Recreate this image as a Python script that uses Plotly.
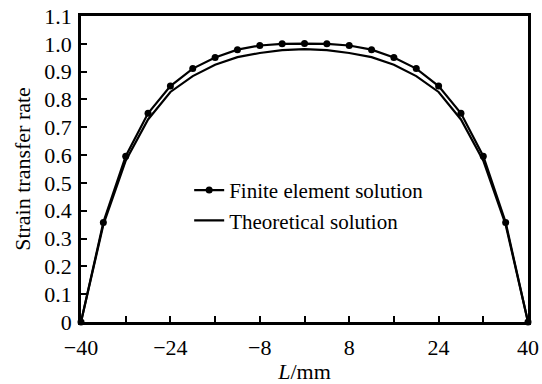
import plotly.graph_objects as go

# Position along the fiber, mm
L_mm = [-40, -36, -32, -28, -24, -20, -16, -12, -8, -4, 0,
        4, 8, 12, 16, 20, 24, 28, 32, 36, 40]

# Strain transfer rate, finite element solution
fe_rate = [0.0, 0.358, 0.596, 0.750, 0.848, 0.911, 0.951, 0.979, 0.994, 1.000, 1.001,
           1.000, 0.994, 0.979, 0.951, 0.911, 0.848, 0.750, 0.596, 0.358, 0.0]

# Strain transfer rate, theoretical solution
theory_rate = [0.0, 0.350, 0.580, 0.728, 0.827, 0.884, 0.925, 0.952, 0.967, 0.977, 0.981,
               0.977, 0.967, 0.952, 0.925, 0.884, 0.827, 0.728, 0.580, 0.350, 0.0]

x_tickvals = [-40, -32, -24, -16, -8, 0, 8, 16, 24, 32, 40]
x_ticktext = ["\u221240", "", "\u221224", "", "\u22128", "", "8", "", "24", "", "40"]

y_tickvals = [0, 0.1, 0.2, 0.3, 0.4, 0.5, 0.6, 0.7, 0.8, 0.9, 1.0, 1.1]
y_ticktext = ["0", "0.1", "0.2", "0.3", "0.4", "0.5", "0.6", "0.7", "0.8", "0.9", "1.0", "1.1"]

FONT = "Liberation Serif, Times New Roman, serif"

fig = go.Figure()
fig.add_trace(go.Scatter(
    x=L_mm, y=fe_rate, mode="lines+markers", name="Finite element solution",
    line=dict(color="black", width=2.2),
    marker=dict(color="black", size=7, symbol="circle"),
    cliponaxis=False,
))
fig.add_trace(go.Scatter(
    x=L_mm, y=theory_rate, mode="lines", name="Theoretical solution",
    line=dict(color="black", width=2.2),
    cliponaxis=False,
))

fig.update_layout(
    width=542, height=384,
    margin=dict(l=81, r=14, t=16, b=62),
    paper_bgcolor="white", plot_bgcolor="white",
    font=dict(family=FONT, size=22, color="black"),
    showlegend=True,
    legend=dict(
        x=0.242, y=0.497, xanchor="left", yanchor="top",
        bgcolor="rgba(0,0,0,0)", borderwidth=0,
        font=dict(family=FONT, size=21, color="black"),
        itemwidth=30, tracegroupgap=5,
    ),
    xaxis=dict(
        range=[-40, 40], tickvals=x_tickvals, ticktext=x_ticktext,
        ticks="inside", ticklen=6, tickwidth=2, tickcolor="black",
        showline=True, linewidth=2.5, linecolor="black", mirror=True,
        showgrid=False, zeroline=False, automargin=False,
        tickfont=dict(family=FONT, size=22), ticklabelstandoff=4,
        title=dict(text="<i>L</i>/mm", font=dict(family=FONT, size=22), standoff=8),
    ),
    yaxis=dict(
        range=[0, 1.1], tickvals=y_tickvals, ticktext=y_ticktext,
        ticks="inside", ticklen=6, tickwidth=2, tickcolor="black",
        showline=True, linewidth=2.5, linecolor="black", mirror=True,
        showgrid=False, zeroline=False, automargin=False,
        tickfont=dict(family=FONT, size=22), ticklabelstandoff=2,
        title=dict(text="Strain transfer rate", font=dict(family=FONT, size=22), standoff=8),
    ),
)

fig.write_html("out.html")
